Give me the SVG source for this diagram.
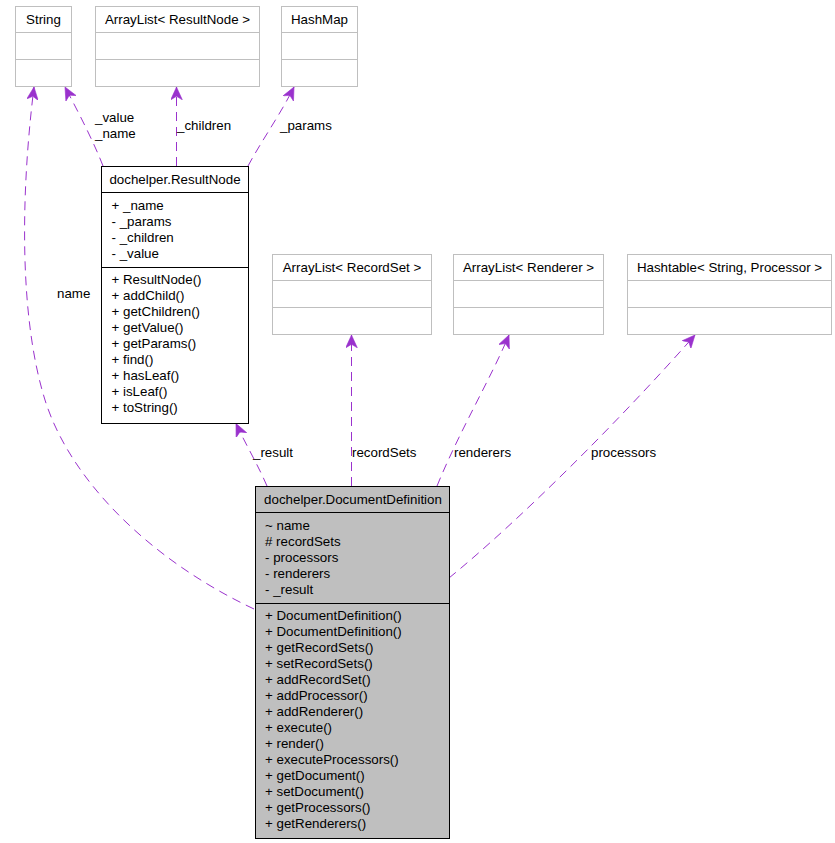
<svg xmlns="http://www.w3.org/2000/svg" width="835" height="843" viewBox="0 0 835 843">
<style>
text{font-family:"Liberation Sans",Arial,sans-serif;font-size:13.33px;fill:#000}
.t{text-anchor:middle}
.ext{fill:#fff;stroke:#bfbfbf;stroke-width:1}
.extl{stroke:#bfbfbf;stroke-width:1}
.doc{fill:#fff;stroke:#000;stroke-width:1}
.cur{fill:#bfbfbf;stroke:#000;stroke-width:1}
.dl{stroke:#000;stroke-width:1}
.e{fill:none;stroke:#9a32cd;stroke-width:1;stroke-dasharray:9,6;marker-end:url(#vee)}
</style>
<defs>
<marker id="vee" markerUnits="userSpaceOnUse" markerWidth="14" markerHeight="12" refX="11" refY="5" orient="auto" viewBox="0 0 12 10">
<path d="M0,0 L11,5 L0,10 L3,5 Z" fill="#9a32cd" stroke="#9a32cd" stroke-width="0.5"/>
</marker>
</defs>

<g id="edges">
<path class="e" d="M254,609 C150,560 70,480 45,400 C20,320 20,200 34,87"/>
<path class="e" d="M103,166 C95,145 80,115 65,87"/>
<path class="e" d="M176.5,166 L176.5,87"/>
<path class="e" d="M248,166 C262,140 280,115 294,87"/>
<path class="e" d="M267,486 C258,465 246,445 236,423.5"/>
<path class="e" d="M351.5,486 L351.5,335"/>
<path class="e" d="M437,486 C460,430 490,380 509,335"/>
<path class="e" d="M449,578 C520,520 620,420 695,335"/>
<text x="57" y="298">name</text>
<text x="95" y="122">_value</text>
<text x="95" y="138">_name</text>
<text x="177" y="130">_children</text>
<text x="280" y="130">_params</text>
<text x="253" y="457">_result</text>
<text x="352" y="457">recordSets</text>
<text x="454" y="457">renderers</text>
<text x="591" y="457">processors</text>
</g>

<g id="String">
<rect class="ext" x="15.5" y="6.5" width="56" height="80"/>
<line class="extl" x1="15.5" y1="32.5" x2="71.5" y2="32.5"/>
<line class="extl" x1="15.5" y1="59.5" x2="71.5" y2="59.5"/>
<text class="t" x="43.5" y="23.5">String</text>
</g>

<g id="ArrayListResultNode">
<rect class="ext" x="95.5" y="6.5" width="164" height="80"/>
<line class="extl" x1="95.5" y1="32.5" x2="259.5" y2="32.5"/>
<line class="extl" x1="95.5" y1="59.5" x2="259.5" y2="59.5"/>
<text class="t" x="177.5" y="23.5">ArrayList&lt; ResultNode &gt;</text>
</g>

<g id="HashMap">
<rect class="ext" x="281.5" y="6.5" width="76" height="80"/>
<line class="extl" x1="281.5" y1="32.5" x2="357.5" y2="32.5"/>
<line class="extl" x1="281.5" y1="59.5" x2="357.5" y2="59.5"/>
<text class="t" x="319.5" y="23.5">HashMap</text>
</g>

<g id="ResultNode">
<rect class="doc" x="101.5" y="166.5" width="147" height="257"/>
<line class="dl" x1="101.5" y1="192.5" x2="248.5" y2="192.5"/>
<line class="dl" x1="101.5" y1="267.5" x2="248.5" y2="267.5"/>
<text class="t" x="175" y="183.5">dochelper.ResultNode</text>
<text x="111.5" y="209.5">+ _name</text>
<text x="111.5" y="225.5">- _params</text>
<text x="111.5" y="241.5">- _children</text>
<text x="111.5" y="257.5">- _value</text>
<text x="111.5" y="283.5">+ ResultNode()</text>
<text x="111.5" y="299.5">+ addChild()</text>
<text x="111.5" y="315.5">+ getChildren()</text>
<text x="111.5" y="331.5">+ getValue()</text>
<text x="111.5" y="347.5">+ getParams()</text>
<text x="111.5" y="363.5">+ find()</text>
<text x="111.5" y="379.5">+ hasLeaf()</text>
<text x="111.5" y="395.5">+ isLeaf()</text>
<text x="111.5" y="411.5">+ toString()</text>
</g>

<g id="ArrayListRecordSet">
<rect class="ext" x="272.5" y="254.5" width="159" height="80"/>
<line class="extl" x1="272.5" y1="280.5" x2="431.5" y2="280.5"/>
<line class="extl" x1="272.5" y1="307.5" x2="431.5" y2="307.5"/>
<text class="t" x="352" y="271.5">ArrayList&lt; RecordSet &gt;</text>
</g>

<g id="ArrayListRenderer">
<rect class="ext" x="453.5" y="254.5" width="150" height="80"/>
<line class="extl" x1="453.5" y1="280.5" x2="603.5" y2="280.5"/>
<line class="extl" x1="453.5" y1="307.5" x2="603.5" y2="307.5"/>
<text class="t" x="528.5" y="271.5">ArrayList&lt; Renderer &gt;</text>
</g>

<g id="Hashtable">
<rect class="ext" x="627.5" y="254.5" width="204" height="80"/>
<line class="extl" x1="627.5" y1="280.5" x2="831.5" y2="280.5"/>
<line class="extl" x1="627.5" y1="307.5" x2="831.5" y2="307.5"/>
<text class="t" x="729.5" y="271.5">Hashtable&lt; String, Processor &gt;</text>
</g>

<g id="DocumentDefinition">
<rect class="cur" x="255.5" y="486.5" width="194" height="352"/>
<line class="dl" x1="255.5" y1="512.5" x2="449.5" y2="512.5"/>
<line class="dl" x1="255.5" y1="603.5" x2="449.5" y2="603.5"/>
<text class="t" x="353" y="503.5">dochelper.DocumentDefinition</text>
<text x="265" y="529.5">~ name</text>
<text x="265" y="545.5"># recordSets</text>
<text x="265" y="561.5">- processors</text>
<text x="265" y="577.5">- renderers</text>
<text x="265" y="593.5">- _result</text>
<text x="265" y="619.5">+ DocumentDefinition()</text>
<text x="265" y="635.5">+ DocumentDefinition()</text>
<text x="265" y="651.5">+ getRecordSets()</text>
<text x="265" y="667.5">+ setRecordSets()</text>
<text x="265" y="683.5">+ addRecordSet()</text>
<text x="265" y="699.5">+ addProcessor()</text>
<text x="265" y="715.5">+ addRenderer()</text>
<text x="265" y="731.5">+ execute()</text>
<text x="265" y="747.5">+ render()</text>
<text x="265" y="763.5">+ executeProcessors()</text>
<text x="265" y="779.5">+ getDocument()</text>
<text x="265" y="795.5">+ setDocument()</text>
<text x="265" y="811.5">+ getProcessors()</text>
<text x="265" y="827.5">+ getRenderers()</text>
</g>
</svg>
